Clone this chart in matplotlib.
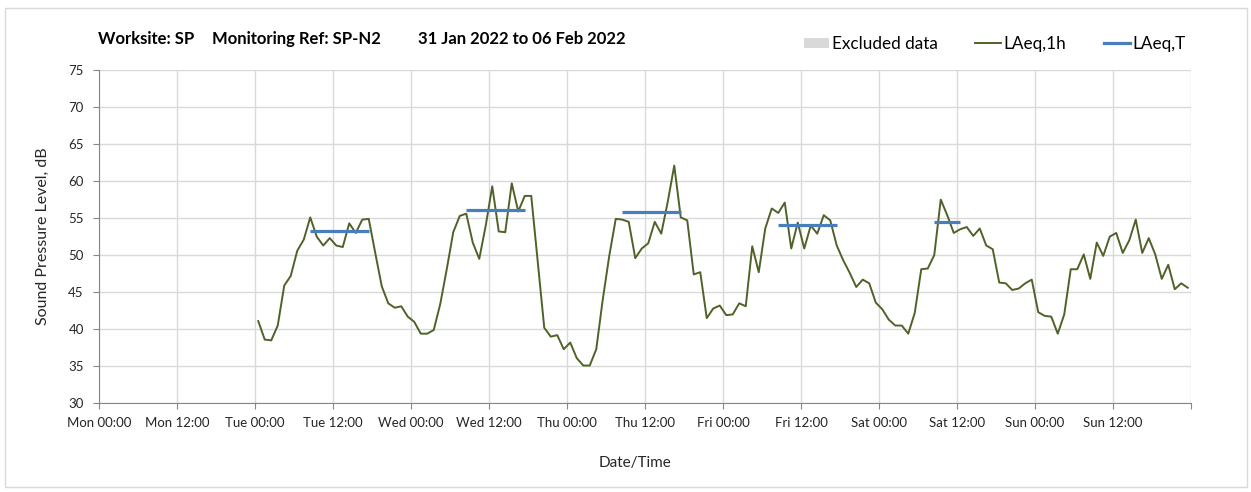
import matplotlib
matplotlib.use('Agg')
import matplotlib.pyplot as plt
from matplotlib.patches import Patch, Rectangle
from matplotlib.lines import Line2D
import pandas as pd

plt.rcParams['font.family'] = ['Lato', 'DejaVu Sans']

# Hourly LAeq,1h values, Tue 01 Feb 2022 00:30 onwards
laeq_1h = [
    41.1, 38.6, 38.5, 40.5, 45.9, 47.2, 50.6, 52.1, 55.1, 52.5, 51.3, 52.3,
    51.3, 51.1, 54.3, 53.0, 54.8, 54.9, 50.3, 45.8, 43.5, 42.9, 43.1, 41.7,
    41.0, 39.4, 39.4, 39.9, 43.4, 48.1, 53.1, 55.3, 55.6, 51.7, 49.5, 54.0,
    59.3, 53.2, 53.1, 59.7, 55.9, 58.0, 58.0, 49.1, 40.2, 39.0, 39.2, 37.3,
    38.2, 36.1, 35.1, 35.1, 37.3, 44.0, 49.9, 54.9, 54.8, 54.5, 49.6, 50.9,
    51.6, 54.5, 52.9, 57.2, 62.1, 55.1, 54.7, 47.4, 47.7, 41.5, 42.8, 43.2,
    41.9, 42.0, 43.5, 43.1, 51.2, 47.7, 53.6, 56.3, 55.7, 57.1, 50.9, 54.4,
    50.9, 54.0, 52.9, 55.4, 54.7, 51.3, 49.3, 47.6, 45.7, 46.7, 46.2, 43.6,
    42.7, 41.3, 40.5, 40.5, 39.4, 42.2, 48.1, 48.2, 50.0, 57.5, 55.4, 53.0,
    53.5, 53.8, 52.6, 53.6, 51.3, 50.8, 46.3, 46.2, 45.3, 45.5, 46.2, 46.7,
    42.3, 41.8, 41.7, 39.4, 42.0, 48.1, 48.1, 50.1, 46.8, 51.7, 49.9, 52.5,
    53.0, 50.3, 52.0, 54.8, 50.3, 52.3, 50.1, 46.8, 48.7, 45.4, 46.2, 45.6,
]
times_1h = pd.date_range('2022-02-01 00:30', periods=len(laeq_1h), freq='h')

# LAeq,T working-hours periods
period_start = ['2022-02-01 08:30', '2022-02-02 08:30', '2022-02-03 08:30',
                '2022-02-04 08:30', '2022-02-05 08:30']
period_end = ['2022-02-01 17:30', '2022-02-02 17:30', '2022-02-03 17:30',
              '2022-02-04 17:30', '2022-02-05 12:30']
laeq_t = [53.3, 56.1, 55.8, 54.1, 54.5]

tick_labels = ['Mon 00:00', 'Mon 12:00', 'Tue 00:00', 'Tue 12:00', 'Wed 00:00',
               'Wed 12:00', 'Thu 00:00', 'Thu 12:00', 'Fri 00:00', 'Fri 12:00',
               'Sat 00:00', 'Sat 12:00', 'Sun 00:00', 'Sun 12:00', '']
tick_times = pd.date_range('2022-01-31 00:00', '2022-02-07 00:00', freq='12h')

green = '#4F6228'
blue = '#4A7EBB'
grid_c = '#d9d9d9'
axis_c = '#868686'

fig = plt.figure(figsize=(12.51, 4.92), dpi=100)
ax = fig.add_axes([99 / 1251, 1 - 403.3 / 492, 1092 / 1251, 333.3 / 492])

ax.plot(times_1h, laeq_1h, color=green, lw=1.4, zorder=3)
for s, e, v in zip(period_start, period_end, laeq_t):
    ax.plot([pd.Timestamp(s), pd.Timestamp(e)], [v, v], color=blue, lw=2.3,
            solid_capstyle='butt', zorder=4)

ax.set_xlim(tick_times[0], tick_times[-1])
ax.set_ylim(30, 75)
ax.set_yticks(range(30, 76, 5))
ax.set_xticks(tick_times)
ax.set_xticklabels(tick_labels)

ax.grid(True, color=grid_c, lw=1)
ax.set_axisbelow(True)
for side in ['top', 'right']:
    ax.spines[side].set_visible(False)
for side in ['left', 'bottom']:
    ax.spines[side].set_color(axis_c)
ax.tick_params(axis='both', direction='out', length=4, color=axis_c,
               labelsize=9.5, labelcolor='#262626')
ax.tick_params(axis='x', pad=6)
ax.tick_params(axis='y', pad=7)

ax.set_ylabel('Sound Pressure Level, dB', fontsize=11.5, color='#262626', labelpad=13)
fig.text(635 / 1251, 1 - 463 / 492, 'Date/Time', fontsize=11, color='#262626',
         ha='center', va='center')

# Title pieces
ty = 1 - 39 / 492
fig.text(98 / 1251, ty, 'Worksite: SP', fontsize=12, fontweight='bold', va='center')
fig.text(212 / 1251, ty, 'Monitoring Ref: SP-N2', fontsize=12, fontweight='bold', va='center')
fig.text(418 / 1251, ty, '31 Jan 2022 to 06 Feb 2022', fontsize=12, fontweight='bold', va='center')

handles = [Patch(facecolor='#d9d9d9', edgecolor='none'),
           Line2D([], [], color=green, lw=1.4),
           Line2D([], [], color=blue, lw=2.3)]
fig.legend(handles, ['Excluded data', 'LAeq,1h', 'LAeq,T'], ncol=3,
           loc='center right', bbox_to_anchor=(1194 / 1251, 1 - 44 / 492),
           frameon=False, fontsize=12.3, handlelength=1.5, handleheight=0.6,
           handletextpad=0.15, columnspacing=2.2, borderpad=0)

# outer border
fig.patches.append(Rectangle((5 / 1251, 5 / 492), 1242 / 1251, 479 / 492,
                             transform=fig.transFigure, fill=False,
                             edgecolor='#d9d9d9', lw=1))

fig.savefig('out.png', dpi=100)
